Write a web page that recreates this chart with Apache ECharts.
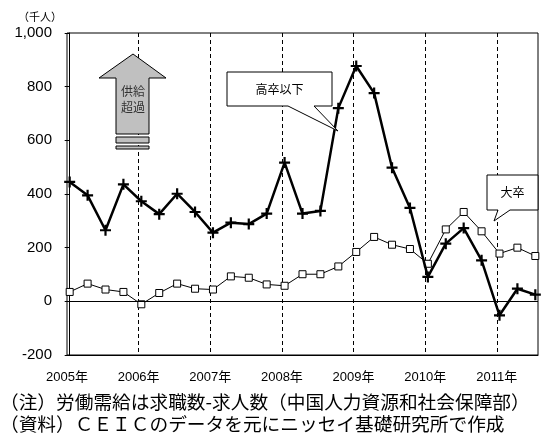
<!DOCTYPE html>
<html><head><meta charset="utf-8">
<script src="https://cdn.jsdelivr.net/npm/echarts@6/dist/echarts.min.js"></script>
<style>html,body{margin:0;padding:0;background:#fff}#c{width:547px;height:436px}</style>
</head><body><div id="c"></div>
<script>
// Quarterly periods 2005Q1 .. 2011Q3
const quarters = ['2005Q1','2005Q2','2005Q3','2005Q4','2006Q1','2006Q2','2006Q3','2006Q4',
  '2007Q1','2007Q2','2007Q3','2007Q4','2008Q1','2008Q2','2008Q3','2008Q4',
  '2009Q1','2009Q2','2009Q3','2009Q4','2010Q1','2010Q2','2010Q3','2010Q4',
  '2011Q1','2011Q2','2011Q3'];
// 高卒以下 (thousand persons)
const highSchool = [445,395,265,436,373,325,401,333,256,293,288,327,517,327,337,720,877,776,498,348,91,215,273,153,-52,47,25];
// 大卒 (thousand persons)
const university = [35,66,44,35,-11,31,66,47,44,93,88,63,58,101,101,130,184,240,211,195,140,268,333,261,178,200,169];
const yearTicks = [2005,2006,2007,2008,2009,2010,2011];
const yTickLabels = ['-200','0','200','400','600','800','1,000'];

const labelFont = 'Liberation Sans, Arial, Noto Sans CJK JP, sans-serif';
const cjkFont = 'Noto Sans CJK JP, sans-serif';
const firstYear = yearTicks[0];

const chart = echarts.init(document.getElementById('c'), null, {renderer:'canvas'});
const crossPath = 'path://M4,0 L6,0 L6,4 L10,4 L10,6 L6,6 L6,10 L4,10 L4,6 L0,6 L0,4 L4,4 Z';

chart.setOption({
  animation:false,
  backgroundColor:'#fff',
  grid:{left:67, right:9, top:33, bottom:81, show:true, borderColor:'#000', borderWidth:1, backgroundColor:'transparent'},
  xAxis:[
    {type:'value', min:-0.15, max:quarters.length-1+0.15, show:false},
    {type:'value', min:firstYear, max:firstYear+(quarters.length-1+0.3)/4, interval:1, position:'bottom',
     axisLine:{show:true, lineStyle:{color:'#000', width:1}},
     axisTick:{show:false},
     splitLine:{show:true, showMinLine:false, showMaxLine:false, lineStyle:{color:'#000', width:1, type:[4,3]}},
     axisLabel:{color:'#000', fontSize:13, fontFamily:labelFont, margin:16,
       formatter:function(v){ return yearTicks.indexOf(v)>=0 ? v+'年' : ''; }}
    }
  ],
  yAxis:{type:'value', min:-200, max:1000, interval:200,
    axisLine:{show:true, lineStyle:{color:'#000', width:1}},
    axisTick:{show:true, inside:false, length:5, lineStyle:{color:'#000'}},
    splitLine:{show:false},
    axisLabel:{color:'#000', fontSize:15, fontFamily:labelFont, margin:15,
      formatter:function(v){ const i=(v+200)/200; return yTickLabels[i]!==undefined?yTickLabels[i]:''; }}
  },
  series:[
    {name:'大卒', type:'line', xAxisIndex:0,
     data:university.map((v,i)=>[i,v]),
     symbol:'rect', symbolSize:7, showAllSymbol:true,
     lineStyle:{color:'#000', width:1},
     itemStyle:{color:'#fff', borderColor:'#000', borderWidth:1},
     markLine:{silent:true, symbol:'none', label:{show:false},
       lineStyle:{color:'#000', width:1, type:'solid'}, data:[{yAxis:0}]},
     z:3},
    {name:'高卒以下', type:'line', xAxisIndex:0,
     data:highSchool.map((v,i)=>[i,v]),
     symbol:crossPath, symbolSize:11, showAllSymbol:true,
     lineStyle:{color:'#000', width:2.5},
     itemStyle:{color:'#000', borderWidth:0},
     z:4}
  ],
  graphic:[
    {type:'text', x:40, y:17, style:{text:'（千人）', fill:'#000', font:'11px '+cjkFont, textAlign:'center', textVerticalAlign:'middle'}},
    // supply-excess arrow
    {type:'polygon', shape:{points:[[133,54],[166,78],[149,78],[149,134],[116,134],[116,78],[99,78]]},
     style:{fill:'#c0c0c0', stroke:'#000', lineWidth:1}, z:10},
    {type:'rect', shape:{x:116, y:137, width:33, height:6}, style:{fill:'#c0c0c0', stroke:'#000', lineWidth:1}, z:10},
    {type:'rect', shape:{x:116, y:146, width:33, height:3}, style:{fill:'#c0c0c0', stroke:'#000', lineWidth:1}, z:10},
    {type:'text', x:133, y:91, style:{text:'供給', fill:'#333', font:'12px '+cjkFont, textAlign:'center', textVerticalAlign:'middle'}, z:11},
    {type:'text', x:133, y:107, style:{text:'超過', fill:'#333', font:'12px '+cjkFont, textAlign:'center', textVerticalAlign:'middle'}, z:11},
    // callout 高卒以下
    {type:'polygon', shape:{points:[[227,72],[332,72],[332,106],[314,106],[338,131],[288,106],[227,106]]},
     style:{fill:'#fff', stroke:'#000', lineWidth:1}, z:10},
    {type:'text', x:279.5, y:89, style:{text:'高卒以下', fill:'#000', font:'12px '+cjkFont, textAlign:'center', textVerticalAlign:'middle'}, z:11},
    // callout 大卒
    {type:'polygon', shape:{points:[[487,175],[538,175],[538,210],[510,210],[494,221],[498,210],[487,210]]},
     style:{fill:'#fff', stroke:'#000', lineWidth:1}, z:10},
    {type:'text', x:512.5, y:192, style:{text:'大卒', fill:'#000', font:'12px '+cjkFont, textAlign:'center', textVerticalAlign:'middle'}, z:11},
    // notes
    {type:'text', x:0, y:402, style:{text:'（注）労働需給は求職数-求人数（中国人力資源和社会保障部）', fill:'#000', font:'18.7px '+cjkFont, textVerticalAlign:'middle'}},
    {type:'text', x:0, y:424, style:{text:'（資料）ＣＥＩＣのデータを元にニッセイ基礎研究所で作成', fill:'#000', font:'18.7px '+cjkFont, textVerticalAlign:'middle'}}
  ]
});
</script></body></html>
